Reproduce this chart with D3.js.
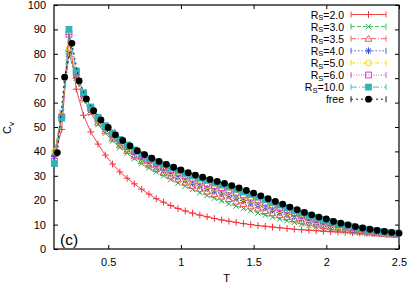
<!DOCTYPE html>
<html>
<head>
<meta charset="utf-8">
<script src="https://cdn.jsdelivr.net/npm/d3@7"></script>
<style>
  body { margin: 0; background: #fff; }
  svg text { font-family: "Liberation Sans", Arial, sans-serif; font-size: 11px; fill: #000; }
</style>
</head>
<body>
<div id="chart"></div>
<script>
// C_v vs T, panel (c)

// ---- Data ----
const tR = [0.13,0.18,0.23,0.28,0.33,0.38,0.43,0.48,0.53,0.58,0.63,0.68,0.73,0.78,0.83,0.88,0.93,0.98,
  1.03,1.08,1.13,1.18,1.23,1.28,1.33,1.38,1.43,1.48,1.53,1.58,1.63,1.68,1.73,1.78,1.83,1.88,1.93,1.98,
  2.03,2.08,2.13,2.18,2.23,2.28,2.33,2.38,2.43,2.48];
const tFree = [0.15,0.2,0.25,0.3,0.35,0.4,0.45,0.5,0.55,0.6,0.65,0.7,0.75,0.8,0.85,0.9,0.95,1.0,
  1.05,1.1,1.15,1.2,1.25,1.3,1.35,1.4,1.45,1.5,1.55,1.6,1.65,1.7,1.75,1.8,1.85,1.9,1.95,2.0,
  2.05,2.1,2.15,2.2,2.25,2.3,2.35,2.4,2.45,2.5];

const cvR20 = [38,49,88,65.5,54.8,48,43,38.5,34.8,31.6,29,26.7,24.5,22.5,20.6,19.2,17.8,16.6,15.6,14.7,
  13.9,13.2,12.5,11.9,11.4,10.9,10.4,10.0,9.6,9.3,9.0,8.7,8.4,8.1,7.9,7.7,7.5,7.3,7.1,7.0,6.8,6.7,6.6,6.5,6.4,6.3,6.2,6.1];
const cvR30 = [39,56,80,70,61,55.5,51,47.5,44.3,41.6,39.3,37,35,33.2,31.6,30.0,28.5,27.1,25.8,24.4,
  23.1,21.9,20.8,19.7,18.6,17.6,16.6,15.7,14.8,13.9,13.1,12.3,11.6,10.9,10.2,9.6,9.0,8.5,8.0,7.6,7.2,6.9,6.6,6.3,6.1,5.9,5.7,5.5];
const cvR35 = [39,55,82,71,61.8,56.2,51.8,48.3,45.2,42.5,40.2,38.0,36.0,34.3,32.8,31.2,29.8,28.5,27.2,25.9,
  24.7,23.6,22.5,21.5,20.5,19.5,18.5,17.5,16.6,15.6,14.7,13.9,13.1,12.2,11.4,10.8,10.1,9.5,8.9,8.4,7.9,7.5,7.1,6.8,6.5,6.3,6.0,5.8];
const cvR40 = [38,54,80,71,62.5,56.8,52.4,49.0,45.9,43.2,40.9,38.7,36.8,35.1,33.6,32.2,30.8,29.5,28.3,27.0,
  25.9,24.8,23.8,22.9,21.9,20.9,19.9,18.9,17.9,16.9,16.0,15.0,14.2,13.3,12.4,11.6,10.9,10.2,9.6,9.0,8.5,8.0,7.5,7.1,6.8,6.5,6.2,6.0];
const cvR50 = [40,55,82,72,63.0,57.3,52.9,49.5,46.4,43.8,41.5,39.3,37.5,35.8,34.3,33.0,31.6,30.3,29.2,28.0,
  26.9,25.9,24.9,24.0,23.0,22.0,21.0,20.0,19.0,18.0,17.0,16.0,15.1,14.1,13.2,12.3,11.6,10.8,10.1,9.5,8.9,8.4,7.9,7.4,7.1,6.8,6.4,6.1];
const cvR60 = [36,54,88,72.5,63.5,57.7,53.4,50.0,47.0,44.3,42.1,40.0,38.1,36.5,35.1,33.7,32.5,31.2,30.0,29.0,
  27.9,26.9,26.0,25.1,24.2,23.2,22.2,21.2,20.1,19.1,18.0,17.0,16.0,14.9,13.9,13.1,12.2,11.5,10.7,10.0,9.4,8.8,8.2,7.7,7.3,7.0,6.6,6.3];
const cvR100 = [35,53.6,90,73,64.1,58.2,54.0,50.6,47.6,44.9,42.7,40.6,38.8,37.2,35.8,34.6,33.3,32.1,31.0,30.0,
  29.0,28.1,27.1,26.3,25.5,24.5,23.5,22.4,21.3,20.2,19.1,18.0,17.0,15.8,14.8,13.8,13.0,12.1,11.3,10.5,9.8,9.2,8.5,8.1,7.6,7.2,6.8,6.5];
const cvFree = [39.5,70.4,84.3,68.9,61.5,56.7,52.9,49.8,46.8,44.5,42.3,40.3,38.7,37.2,35.9,34.7,33.5,32.4,31.3,30.3,
  29.4,28.5,27.7,26.9,26.0,25.0,24.0,22.9,21.8,20.6,19.5,18.4,17.2,16.1,15.0,14.0,13.1,12.3,11.3,10.6,9.9,9.2,8.6,8.1,7.6,7.2,6.8,6.5];

const xTicks = [0.5,1,1.5,2,2.5];
const yTicks = [0,10,20,30,40,50,60,70,80,90,100];

const series = [
  { label:"2.0",  t:tR,    v:cvR20,  color:"#f5303a", dash:null,          mark:"plus" },
  { label:"3.0",  t:tR,    v:cvR30,  color:"#1fb04e", dash:"4,2",         mark:"times" },
  { label:"3.5",  t:tR,    v:cvR35,  color:"#f2564e", dash:"5,2,1,2",     mark:"tri" },
  { label:"4.0",  t:tR,    v:cvR40,  color:"#3c4ed0", dash:"1.5,2",       mark:"star" },
  { label:"5.0",  t:tR,    v:cvR50,  color:"#ecd800", dash:"4,2,1,2,1,2", mark:"circle" },
  { label:"6.0",  t:tR,    v:cvR60,  color:"#d840c8", dash:"1,1.5",       mark:"square" },
  { label:"10.0", t:tR,    v:cvR100, color:"#2fb7b7", dash:"6,2,1,2",     mark:"fsquare" },
  { label:"free", t:tFree, v:cvFree, color:"#000",    dash:"2,3",         mark:"fcircle" }
];

// ---- Layout ----
const W = 409, H = 283;
const P = { left: 54, right: 399, top: 5, bottom: 249 };

const svg = d3.select("#chart").append("svg").attr("width", W).attr("height", H);

const x = d3.scaleLinear().domain([0.127, 2.5]).range([P.left, P.right]);
const y = d3.scaleLinear().domain([0, 100]).range([P.bottom, P.top]);

// axes (gnuplot style: inward ticks, mirrored)
function styleAxis(g){ g.select(".domain").remove(); g.selectAll("line").attr("stroke","#000"); }

svg.append("g").attr("transform",`translate(0,${P.bottom})`)
  .call(d3.axisBottom(x).tickValues(xTicks).tickSizeInner(-4).tickSizeOuter(0).tickPadding(9)
        .tickFormat(d3.format("~g")))
  .call(styleAxis)
  .selectAll("text").style("font-size","11px");
svg.append("g").attr("transform",`translate(0,${P.top})`)
  .call(d3.axisTop(x).tickValues(xTicks).tickSizeInner(-4).tickSizeOuter(0).tickFormat(""))
  .call(styleAxis);
svg.append("g").attr("transform",`translate(${P.left},0)`)
  .call(d3.axisLeft(y).tickValues(yTicks).tickSizeInner(-4).tickSizeOuter(0).tickPadding(8))
  .call(styleAxis)
  .selectAll("text").style("font-size","11px");
svg.append("g").attr("transform",`translate(${P.right},0)`)
  .call(d3.axisRight(y).tickValues(yTicks).tickSizeInner(-4).tickSizeOuter(0).tickFormat(""))
  .call(styleAxis);

// frame
svg.append("rect")
  .attr("x",P.left).attr("y",P.top)
  .attr("width",P.right-P.left).attr("height",P.bottom-P.top)
  .attr("fill","none").attr("stroke","#000").attr("stroke-width",1.2);

// axis titles
svg.append("text").attr("x",(P.left+P.right)/2).attr("y",282)
  .attr("text-anchor","middle").style("font-size","11px").text("T");
const yl = svg.append("text").attr("transform","translate(11,128) rotate(-90)")
  .attr("text-anchor","middle").style("font-size","11px");
yl.append("tspan").text("C");
yl.append("tspan").attr("dy",3).style("font-size","8px").text("v");

svg.append("text").attr("x",60).attr("y",245).style("font-size","15.5px").text("(c)");

// ---- markers ----
function drawMark(g, type, color){
  const s = 3.4;
  switch(type){
    case "plus":
      g.append("path").attr("d",`M${-s},0H${s}M0,${-s}V${s}`).attr("stroke",color).attr("fill","none"); break;
    case "times":
      g.append("path").attr("d",`M${-s*0.8},${-s*0.8}L${s*0.8},${s*0.8}M${-s*0.8},${s*0.8}L${s*0.8},${-s*0.8}`)
        .attr("stroke",color).attr("fill","none"); break;
    case "tri":
      g.append("path").attr("d",`M0,${-s}L${s},${s*0.75}L${-s},${s*0.75}Z`).attr("stroke",color).attr("fill","none"); break;
    case "star":
      g.append("path").attr("d",`M${-s},0H${s}M0,${-s}V${s}M${-s*0.75},${-s*0.75}L${s*0.75},${s*0.75}M${-s*0.75},${s*0.75}L${s*0.75},${-s*0.75}`)
        .attr("stroke",color).attr("fill","none"); break;
    case "circle":
      g.append("circle").attr("r",s*0.85).attr("stroke",color).attr("fill","none"); break;
    case "square":
      g.append("rect").attr("x",-s*0.85).attr("y",-s*0.85).attr("width",s*1.7).attr("height",s*1.7)
        .attr("stroke",color).attr("fill","none"); break;
    case "fsquare":
      g.append("rect").attr("x",-s).attr("y",-s).attr("width",s*2).attr("height",s*2)
        .attr("fill",color).attr("stroke","none"); break;
    case "fcircle":
      g.append("circle").attr("r",s).attr("fill",color); break;
  }
}

// ---- series ----
const line = d3.line().x(d=>x(d[0])).y(d=>y(d[1]));
const plot = svg.append("g");
series.forEach(s => {
  const pts = s.t.map((t,i)=>[t, s.v[i]]);
  plot.append("path").datum(pts).attr("d",line)
    .attr("fill","none").attr("stroke", s.color).attr("stroke-width",0.9)
    .attr("stroke-dasharray", s.dash);
  plot.append("g").selectAll("g").data(pts).enter().append("g")
    .attr("transform",d=>`translate(${x(d[0])},${y(d[1])})`)
    .each(function(){ drawMark(d3.select(this), s.mark, s.color); });
});

// ---- legend ----
const leg = svg.append("g");
series.forEach((s,i) => {
  const cy = 14.5 + i*12.1;
  const t = leg.append("text").attr("x",344).attr("y",cy+4).attr("text-anchor","end")
    .style("font-size","10.5px");
  if (s.label === "free") t.text("free");
  else {
    t.append("tspan").text("R");
    t.append("tspan").attr("dy",1.6).style("font-size","7.5px").text("S");
    t.append("tspan").attr("dy",-1.6).text("=" + s.label);
  }
  leg.append("path").attr("d",`M351,${cy}H386`)
    .attr("stroke",s.color).attr("fill","none").attr("stroke-width",0.9)
    .attr("stroke-dasharray", s.dash);
  leg.append("path").attr("d",`M351,${cy-3}V${cy+3}M386,${cy-3}V${cy+3}`)
    .attr("stroke",s.color).attr("fill","none").attr("stroke-width",0.9);
  const m = leg.append("g").attr("transform",`translate(368.5,${cy})`);
  drawMark(m, s.mark, s.color);
});
</script>
</body>
</html>
